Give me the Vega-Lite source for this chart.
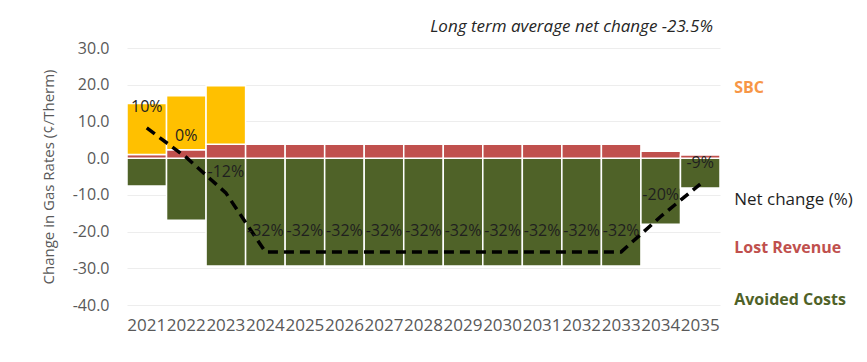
{
  "$schema": "https://vega.github.io/schema/vega-lite/v6.json",
  "width": 593,
  "height": 257,
  "autosize": {"type": "none"},
  "padding": {"left": 127, "top": 48, "right": 147, "bottom": 57},
  "background": "white",
  "config": {
    "view": {"stroke": null},
    "font": "Open Sans",
    "text": {"font": "Open Sans"}
  },
  "title": {
    "text": "Long term average net change -23.5%",
    "anchor": "end",
    "frame": "group",
    "fontStyle": "italic",
    "fontWeight": "normal",
    "fontSize": 17,
    "color": "#262626",
    "offset": 4,
    "dx": -7
  },
  "datasets": {
    "rates": [
      {"year": "2021", "series": "Avoided Costs", "value": -7.6},
      {"year": "2021", "series": "Lost Revenue", "value": 1.0},
      {"year": "2021", "series": "SBC", "value": 13.9},
      {"year": "2022", "series": "Avoided Costs", "value": -16.9},
      {"year": "2022", "series": "Lost Revenue", "value": 2.3},
      {"year": "2022", "series": "SBC", "value": 14.7},
      {"year": "2023", "series": "Avoided Costs", "value": -29.4},
      {"year": "2023", "series": "Lost Revenue", "value": 3.8},
      {"year": "2023", "series": "SBC", "value": 15.9},
      {"year": "2024", "series": "Avoided Costs", "value": -29.4},
      {"year": "2024", "series": "Lost Revenue", "value": 3.8},
      {"year": "2025", "series": "Avoided Costs", "value": -29.4},
      {"year": "2025", "series": "Lost Revenue", "value": 3.8},
      {"year": "2026", "series": "Avoided Costs", "value": -29.4},
      {"year": "2026", "series": "Lost Revenue", "value": 3.8},
      {"year": "2027", "series": "Avoided Costs", "value": -29.4},
      {"year": "2027", "series": "Lost Revenue", "value": 3.8},
      {"year": "2028", "series": "Avoided Costs", "value": -29.4},
      {"year": "2028", "series": "Lost Revenue", "value": 3.8},
      {"year": "2029", "series": "Avoided Costs", "value": -29.4},
      {"year": "2029", "series": "Lost Revenue", "value": 3.8},
      {"year": "2030", "series": "Avoided Costs", "value": -29.4},
      {"year": "2030", "series": "Lost Revenue", "value": 3.8},
      {"year": "2031", "series": "Avoided Costs", "value": -29.4},
      {"year": "2031", "series": "Lost Revenue", "value": 3.8},
      {"year": "2032", "series": "Avoided Costs", "value": -29.4},
      {"year": "2032", "series": "Lost Revenue", "value": 3.8},
      {"year": "2033", "series": "Avoided Costs", "value": -29.4},
      {"year": "2033", "series": "Lost Revenue", "value": 3.8},
      {"year": "2034", "series": "Avoided Costs", "value": -18.0},
      {"year": "2034", "series": "Lost Revenue", "value": 1.9},
      {"year": "2035", "series": "Avoided Costs", "value": -8.1},
      {"year": "2035", "series": "Lost Revenue", "value": 0.85}
    ],
    "net": [
      {"year": "2021", "pct": 10},
      {"year": "2022", "pct": 0},
      {"year": "2023", "pct": -12},
      {"year": "2024", "pct": -32},
      {"year": "2025", "pct": -32},
      {"year": "2026", "pct": -32},
      {"year": "2027", "pct": -32},
      {"year": "2028", "pct": -32},
      {"year": "2029", "pct": -32},
      {"year": "2030", "pct": -32},
      {"year": "2031", "pct": -32},
      {"year": "2032", "pct": -32},
      {"year": "2033", "pct": -32},
      {"year": "2034", "pct": -20},
      {"year": "2035", "pct": -9}
    ],
    "seriesLabels": [
      {"series": "SBC", "at": 19.1},
      {"series": "Net change (%)", "at": -11.4},
      {"series": "Lost Revenue", "at": -24.5},
      {"series": "Avoided Costs", "at": -38.7}
    ]
  },
  "resolve": {"scale": {"y": "independent", "color": "independent"}},
  "layer": [
    {
      "data": {"name": "rates"},
      "mark": {"type": "bar", "stroke": "white", "strokeWidth": 1.5},
      "encoding": {
        "x": {
          "field": "year",
          "type": "ordinal",
          "scale": {"paddingInner": 0, "paddingOuter": 0},
          "axis": {
            "title": null,
            "domain": false,
            "ticks": false,
            "labelAngle": 0,
            "labelFontSize": 17,
            "labelColor": "#595959",
            "labelPadding": 12,
            "labelOverlap": false
          }
        },
        "y": {
          "field": "value",
          "type": "quantitative",
          "aggregate": "sum",
          "stack": "zero",
          "scale": {"domain": [-40, 30], "nice": false},
          "axis": {
            "title": "Change in Gas Rates (¢/Therm)",
            "titleFontSize": 15,
            "titleFontWeight": "normal",
            "titleColor": "#595959",
            "titlePadding": 16,
            "values": [-40, -30, -20, -10, 0, 10, 20, 30],
            "labelExpr": "replace(format(datum.value, '.1f'), '\u2212', '-')",
            "labelFontSize": 16,
            "labelColor": "#595959",
            "labelPadding": 18,
            "domain": false,
            "ticks": false,
            "grid": true,
            "gridColor": "#EDEDED",
            "gridWidth": 1
          }
        },
        "color": {
          "field": "series",
          "type": "nominal",
          "scale": {
            "domain": ["Avoided Costs", "Lost Revenue", "SBC"],
            "range": ["#4F6228", "#C0504D", "#FFC000"]
          },
          "legend": null
        },
        "order": {"field": "series", "sort": "ascending"}
      }
    },
    {
      "mark": {"type": "rule", "color": "#A6A6A6", "strokeWidth": 2.5},
      "encoding": {
        "y": {
          "datum": 0,
          "type": "quantitative",
          "scale": {"domain": [-40, 30], "nice": false},
          "axis": null
        }
      }
    },
    {
      "data": {"name": "net"},
      "mark": {
        "type": "line",
        "color": "black",
        "strokeWidth": 3.5,
        "strokeDash": [10, 6]
      },
      "encoding": {
        "x": {"field": "year", "type": "ordinal"},
        "y": {
          "field": "pct",
          "type": "quantitative",
          "scale": {"domain": [-50, 37.1], "nice": false},
          "axis": null
        }
      }
    },
    {
      "data": {"name": "net"},
      "transform": [{"calculate": "datum.pct + '%'", "as": "label"}],
      "mark": {
        "type": "text",
        "fontSize": 16,
        "color": "#1F1F1F",
        "dy": -21,
        "baseline": "middle"
      },
      "encoding": {
        "x": {"field": "year", "type": "ordinal"},
        "y": {
          "field": "pct",
          "type": "quantitative",
          "scale": {"domain": [-50, 37.1], "nice": false},
          "axis": null
        },
        "text": {"field": "label"}
      }
    },
    {
      "data": {"name": "seriesLabels"},
      "transform": [{"filter": "datum.series != 'Net change (%)'"}],
      "mark": {
        "type": "text",
        "fontSize": 16,
        "fontWeight": "bold",
        "align": "left",
        "baseline": "middle",
        "dx": 34
      },
      "encoding": {
        "x": {"datum": "2035", "type": "ordinal"},
        "y": {
          "field": "at",
          "type": "quantitative",
          "scale": {"domain": [-40, 30], "nice": false},
          "axis": null
        },
        "text": {"field": "series"},
        "color": {
          "field": "series",
          "type": "nominal",
          "scale": {
            "domain": ["SBC", "Lost Revenue", "Avoided Costs"],
            "range": ["#F79646", "#C0504D", "#4F6228"]
          },
          "legend": null
        }
      }
    },
    {
      "data": {"name": "seriesLabels"},
      "transform": [{"filter": "datum.series == 'Net change (%)'"}],
      "mark": {
        "type": "text",
        "fontSize": 17,
        "align": "left",
        "baseline": "middle",
        "dx": 34,
        "color": "#1F1F1F"
      },
      "encoding": {
        "x": {"datum": "2035", "type": "ordinal"},
        "y": {
          "field": "at",
          "type": "quantitative",
          "scale": {"domain": [-40, 30], "nice": false},
          "axis": null
        },
        "text": {"field": "series"}
      }
    }
  ]
}
